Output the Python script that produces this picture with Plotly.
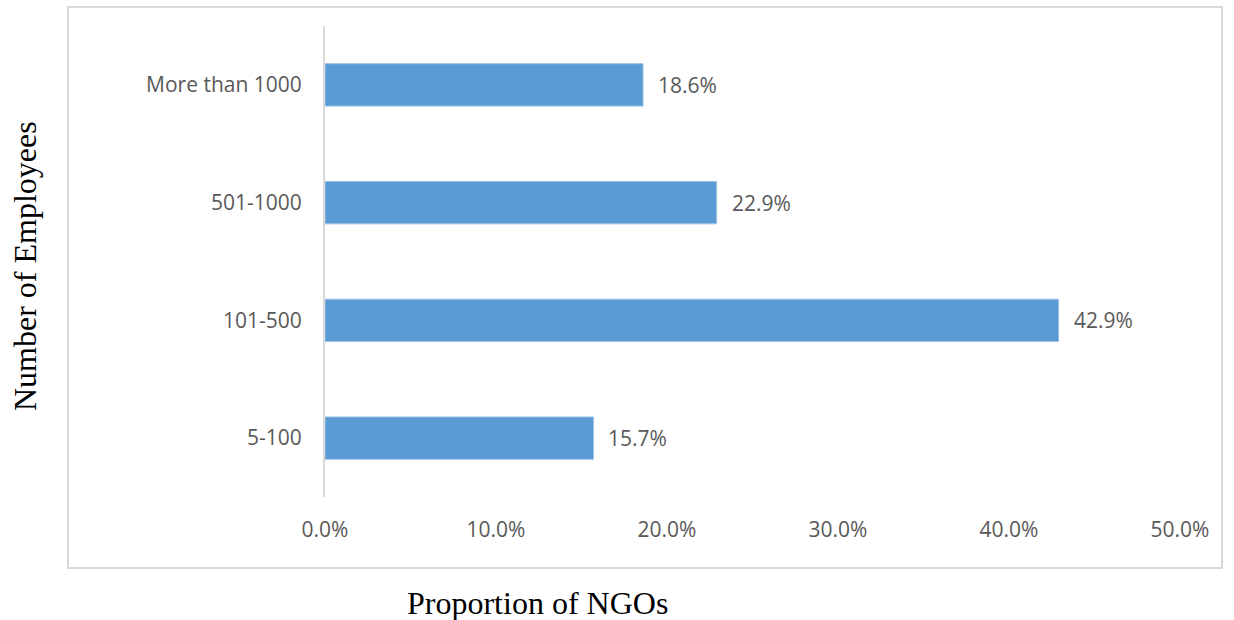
import plotly.graph_objects as go

# Share of NGOs by workforce size
categories = ["5-100", "101-500", "501-1000", "More than 1000"]
shares = [15.7, 42.9, 22.9, 18.6]
x_ticks = [0, 10, 20, 30, 40, 50]
x_tick_labels = ["0.0%", "10.0%", "20.0%", "30.0%", "40.0%", "50.0%"]

label_font = dict(family="Open Sans, Noto Sans, sans-serif", size=21, color="#595959")
title_font = dict(family="Liberation Serif, Times New Roman, serif", size=32, color="#000000")

fig = go.Figure(
    go.Bar(
        y=categories,
        x=shares,
        orientation="h",
        width=0.36,
        marker=dict(color="#5B9BD5", line=dict(color="#9DC3E6", width=1)),
        hoverinfo="x+y",
    )
)

# value labels just past the end of each bar
for cat, val in zip(categories, shares):
    fig.add_annotation(
        x=val, y=cat,
        text=f"{val:.1f}%",
        showarrow=False,
        xanchor="left", yanchor="middle",
        xshift=13,
        font=label_font,
    )

fig.update_layout(
    width=1234,
    height=620,
    margin=dict(l=325, r=54, t=26, b=123),
    paper_bgcolor="white",
    plot_bgcolor="white",
    showlegend=False,
    bargap=0.64,
)

fig.update_xaxes(
    range=[0, 50],
    tickvals=x_ticks,
    ticktext=x_tick_labels,
    tickfont=label_font,
    showgrid=False,
    zeroline=False,
    showline=False,
    ticklabelstandoff=18,
)

fig.update_yaxes(
    categoryorder="array",
    categoryarray=categories,
    tickfont=label_font,
    showgrid=False,
    zeroline=False,
    showline=True,
    linecolor="#d9d9d9",
    linewidth=2,
    ticklabelstandoff=17,
)

# outer frame around the chart area
fig.add_shape(
    type="rect",
    xref="paper", yref="paper",
    x0=(68 - 325) / 855, x1=(1222 - 325) / 855,
    y0=(497 - 568) / 471, y1=(497 - 7) / 471,
    line=dict(color="#d9d9d9", width=2),
    fillcolor="rgba(0,0,0,0)",
    layer="below",
)

# axis titles
fig.add_annotation(
    text="Number of Employees",
    xref="paper", yref="paper",
    x=(25 - 325) / 855, y=(497 - 266) / 471,
    textangle=-90, showarrow=False,
    font=title_font,
    xanchor="center", yanchor="middle",
)
fig.add_annotation(
    text="Proportion of NGOs",
    xref="paper", yref="paper",
    x=(537 - 325) / 855, y=(497 - 603) / 471,
    showarrow=False,
    font=title_font,
    xanchor="center", yanchor="middle",
)

fig.write_html("out.html")
